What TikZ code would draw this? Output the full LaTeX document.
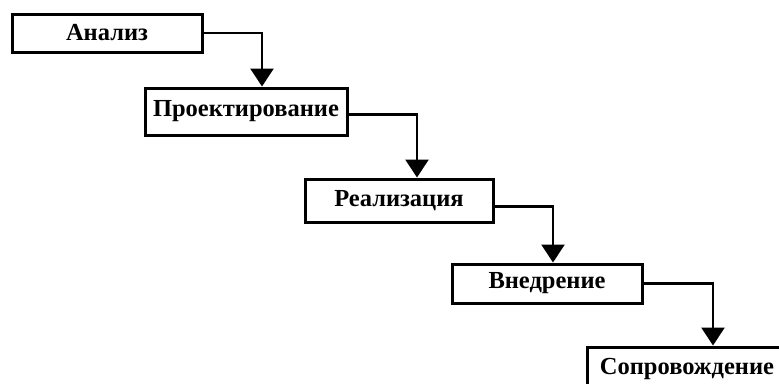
\documentclass[tikz,border=0pt]{standalone}
\usepackage{fontspec}
\setmainfont{Liberation Serif}
\usetikzlibrary{arrows.meta}
\begin{document}
\begin{tikzpicture}[x=1pt,y=-1pt,
  stage/.style={draw=black, line width=3pt, fill=white, inner sep=0pt, anchor=center,
    font=\fontsize{24.5}{24.5}\selectfont\bfseries},
  flow/.style={draw=black, line width=2.6pt, -{Triangle[width=23pt,length=18pt]}}]
\useasboundingbox (0,0) rectangle (779,383);
\fill[white] (0,0) rectangle (779,383);
\node[stage, minimum width=190pt, minimum height=38pt] (a) at (107,33) {Анализ};
\node[stage, minimum width=202pt, minimum height=47pt] (b) at (246,111.5) {Проектирование};
\node[stage, minimum width=188pt, minimum height=43pt] (c) at (399,200.5) {Реализация};
\node[stage, minimum width=190pt, minimum height=39pt] (d) at (547,283.5) {Внедрение};
\node[stage, minimum width=200pt, minimum height=44pt] (e) at (687,369) {Сопровождение};
\coordinate (d1) at (262,0);
\coordinate (d2) at (417,0);
\coordinate (d3) at (553,0);
\coordinate (d4) at (713,0);
\draw[flow] (a.east) -| (d1 |- b.north);
\draw[flow] ([yshift=-3pt]b.east) -| (d2 |- c.north);
\draw[flow] ([yshift=-6pt]c.east) -| (d3 |- d.north);
\draw[flow] (d.east) -| (d4 |- e.north);
\end{tikzpicture}
\end{document}
